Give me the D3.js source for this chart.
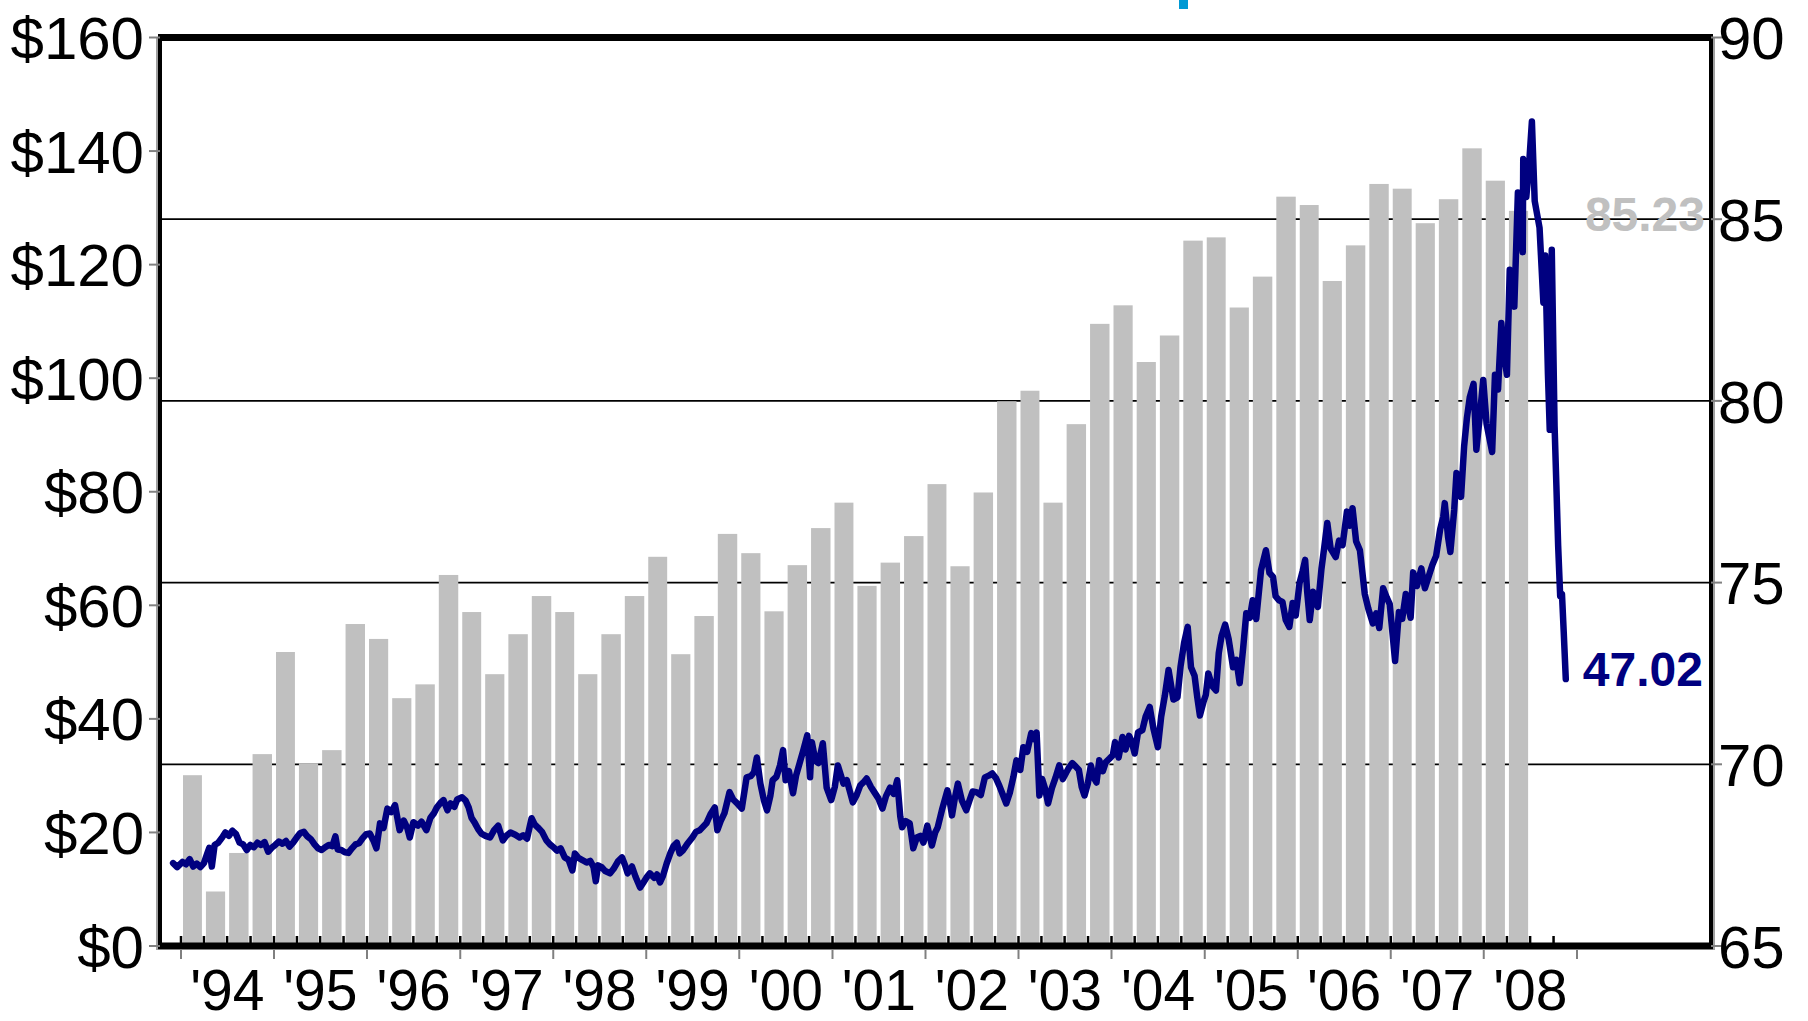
<!DOCTYPE html>
<html>
<head>
<meta charset="utf-8">
<script src="https://cdn.jsdelivr.net/npm/d3@7"></script>
<style>
  body { margin: 0; background: #fff; }
  svg { display: block; }
  text { font-family: "Liberation Sans", Arial, sans-serif; }
</style>
</head>
<body>
<svg id="chart" width="1808" height="1021"></svg>
<script>
// quarterly bars (right axis, 65-90)
var quarters = ["1994Q1","1994Q2","1994Q3","1994Q4","1995Q1","1995Q2","1995Q3","1995Q4",
  "1996Q1","1996Q2","1996Q3","1996Q4","1997Q1","1997Q2","1997Q3","1997Q4",
  "1998Q1","1998Q2","1998Q3","1998Q4","1999Q1","1999Q2","1999Q3","1999Q4",
  "2000Q1","2000Q2","2000Q3","2000Q4","2001Q1","2001Q2","2001Q3","2001Q4",
  "2002Q1","2002Q2","2002Q3","2002Q4","2003Q1","2003Q2","2003Q3","2003Q4",
  "2004Q1","2004Q2","2004Q3","2004Q4","2005Q1","2005Q2","2005Q3","2005Q4",
  "2006Q1","2006Q2","2006Q3","2006Q4","2007Q1","2007Q2","2007Q3","2007Q4",
  "2008Q1","2008Q2"]
var barValues = [69.70,66.50,67.56,70.28, 73.09,70.03,70.39,73.86,
  73.45,71.82,72.20,75.21, 74.19,72.48,73.58,74.63,
  74.19,72.48,73.58,74.63, 75.71,73.03,74.08,76.34,
  75.81,74.21,75.48,76.50, 77.20,74.91,75.55,76.28,
  77.71,75.45,77.48,79.99, 80.28,77.20,79.36,82.12,
  82.63,81.07,81.80,84.41, 84.50,82.57,83.42,85.62,
  85.39,83.30,84.28,85.97, 85.84,84.89,85.55,86.95,
  86.06,85.23]

// price line (left axis, $)
var oilPrices = [
  ["1993-12-01",14.6],["1993-12-17",13.9],["1994-01-07",14.8],["1994-01-21",14.4],["1994-02-04",15.3],
  ["1994-02-18",14.0],["1994-03-04",14.5],["1994-03-18",13.9],["1994-04-01",14.6],["1994-04-15",16.4],
  ["1994-04-22",17.3],["1994-05-02",14.0],["1994-05-13",17.8],["1994-05-27",18.2],["1994-06-10",19.0],
  ["1994-06-24",20.0],["1994-07-08",19.4],["1994-07-22",20.3],["1994-08-05",19.7],["1994-08-19",18.2],
  ["1994-09-02",17.9],["1994-09-16",16.9],["1994-09-30",17.8],["1994-10-14",17.4],["1994-10-28",18.2],
  ["1994-11-11",17.8],["1994-11-25",18.3],["1994-12-09",16.6],["1994-12-23",17.3],
  ["1995-01-06",17.8],["1995-01-20",18.4],["1995-02-03",18.0],["1995-02-17",18.5],["1995-03-03",17.5],
  ["1995-03-17",18.2],["1995-03-31",19.1],["1995-04-14",19.9],["1995-04-28",20.1],["1995-05-12",19.3],
  ["1995-05-26",18.8],["1995-06-09",17.9],["1995-06-23",17.2],["1995-07-07",16.9],["1995-07-21",17.4],
  ["1995-08-04",17.8],["1995-08-18",17.6],["1995-08-30",19.3],["1995-09-08",17.0],["1995-09-22",16.9],
  ["1995-10-06",16.5],["1995-10-20",16.4],["1995-11-03",17.2],["1995-11-17",17.9],["1995-12-01",18.1],
  ["1995-12-15",19.0],["1995-12-29",19.7],
  ["1996-01-12",19.8],["1996-01-26",18.6],["1996-02-07",17.2],["1996-02-21",21.6],["1996-03-06",20.8],
  ["1996-03-21",24.2],["1996-04-05",23.6],["1996-04-20",24.8],["1996-05-08",20.4],["1996-05-24",22.1],
  ["1996-06-07",20.8],["1996-06-17",19.1],["1996-07-01",21.8],["1996-07-19",21.2],["1996-08-02",21.9],
  ["1996-08-21",20.4],["1996-09-06",22.6],["1996-09-20",23.4],["1996-10-01",24.4],["1996-10-15",25.2],
  ["1996-10-27",25.7],["1996-11-12",23.9],["1996-11-24",25.1],["1996-12-09",24.5],["1996-12-20",25.8],
  ["1997-01-08",26.2],["1997-01-22",25.6],["1997-02-03",24.4],["1997-02-14",22.6],["1997-02-28",21.6],
  ["1997-03-12",20.6],["1997-03-25",19.8],["1997-04-10",19.4],["1997-04-28",19.1],["1997-05-14",20.4],
  ["1997-05-30",21.2],["1997-06-17",18.6],["1997-07-01",19.4],["1997-07-17",20.0],["1997-08-05",19.6],
  ["1997-08-22",19.1],["1997-09-05",19.5],["1997-09-20",18.9],["1997-10-08",22.5],["1997-10-20",21.4],
  ["1997-11-01",20.9],["1997-11-18",20.1],["1997-12-05",18.6],["1997-12-19",17.9],
  ["1998-01-02",17.4],["1998-01-15",16.8],["1998-01-30",17.2],["1998-02-15",15.6],["1998-03-02",15.2],
  ["1998-03-17",13.3],["1998-03-27",16.3],["1998-04-10",15.5],["1998-04-27",15.1],["1998-05-12",14.7],
  ["1998-05-26",15.0],["1998-06-08",13.9],["1998-06-17",11.4],["1998-06-26",14.2],["1998-07-10",13.9],
  ["1998-07-24",13.2],["1998-08-12",12.8],["1998-08-26",13.6],["1998-09-12",14.9],["1998-09-28",15.6],
  ["1998-10-10",14.2],["1998-10-20",12.8],["1998-11-06",14.0],["1998-11-20",12.2],["1998-12-08",10.3],
  ["1998-12-21",11.2],
  ["1999-01-04",12.2],["1999-01-15",12.8],["1999-02-01",12.0],["1999-02-12",12.6],["1999-02-24",11.2],
  ["1999-03-08",12.4],["1999-03-22",14.5],["1999-04-06",16.4],["1999-04-18",17.6],["1999-05-01",18.2],
  ["1999-05-12",16.3],["1999-05-26",16.9],["1999-06-10",17.9],["1999-07-01",19.1],["1999-07-15",20.1],
  ["1999-07-30",20.4],["1999-08-12",21.0],["1999-08-25",21.6],["1999-09-10",23.2],["1999-09-27",24.4],
  ["1999-10-07",20.4],["1999-10-20",22.0],["1999-11-04",23.4],["1999-11-24",27.1],["1999-12-08",25.8],
  ["1999-12-22",25.2],
  ["2000-01-11",24.2],["2000-01-30",29.7],["2000-02-15",29.9],["2000-02-28",30.6],["2000-03-10",33.2],
  ["2000-03-24",28.6],["2000-04-07",25.6],["2000-04-19",23.9],["2000-05-02",26.4],["2000-05-11",29.2],
  ["2000-05-26",29.8],["2000-06-09",31.8],["2000-06-21",34.5],["2000-07-01",29.2],["2000-07-14",30.8],
  ["2000-07-30",26.9],["2000-08-11",30.0],["2000-08-25",32.2],["2000-09-08",34.4],["2000-09-24",37.1],
  ["2000-10-05",29.7],["2000-10-12",35.9],["2000-10-26",32.6],["2000-11-07",32.2],["2000-11-24",35.7],
  ["2000-12-09",27.9],["2000-12-27",25.7],
  ["2001-01-10",28.0],["2001-01-22",31.8],["2001-02-13",28.6],["2001-02-26",29.2],["2001-03-08",27.6],
  ["2001-03-22",25.3],["2001-04-06",26.6],["2001-04-20",28.3],["2001-05-02",28.8],["2001-05-15",29.5],
  ["2001-06-01",28.0],["2001-06-14",27.1],["2001-06-30",26.0],["2001-07-16",24.2],["2001-07-30",26.4],
  ["2001-08-15",27.9],["2001-08-29",26.8],["2001-09-12",29.2],["2001-09-24",22.8],["2001-10-01",20.9],
  ["2001-10-15",22.0],["2001-10-31",21.6],["2001-11-14",17.2],["2001-11-28",19.1],["2001-12-12",19.4],
  ["2001-12-24",18.2],
  ["2002-01-08",21.2],["2002-01-26",17.7],["2002-02-08",20.0],["2002-02-18",20.9],["2002-03-08",24.2],
  ["2002-03-28",27.4],["2002-04-05",25.8],["2002-04-15",23.0],["2002-04-26",26.0],["2002-05-08",28.6],
  ["2002-05-24",25.6],["2002-06-10",23.9],["2002-06-24",25.8],["2002-07-05",27.2],["2002-07-20",27.1],
  ["2002-08-06",26.6],["2002-08-22",29.7],["2002-09-06",30.0],["2002-09-20",30.4],["2002-10-04",29.6],
  ["2002-10-18",28.2],["2002-11-01",26.6],["2002-11-14",25.1],["2002-11-28",27.0],["2002-12-12",29.8],
  ["2002-12-24",32.7],
  ["2003-01-08",31.0],["2003-01-20",35.0],["2003-02-04",34.2],["2003-02-20",37.5],["2003-03-05",36.4],
  ["2003-03-13",37.6],["2003-03-24",26.5],["2003-04-04",29.4],["2003-04-16",27.6],["2003-04-27",25.1],
  ["2003-05-12",27.8],["2003-05-26",29.6],["2003-06-10",31.8],["2003-06-24",29.4],["2003-07-08",30.6],
  ["2003-07-18",31.4],["2003-07-31",32.2],["2003-08-14",31.6],["2003-08-26",31.0],["2003-09-06",28.0],
  ["2003-09-17",26.5],["2003-09-30",28.6],["2003-10-12",31.8],["2003-10-24",29.6],["2003-11-03",28.8],
  ["2003-11-14",32.7],["2003-11-28",30.8],["2003-12-10",32.4],["2003-12-24",33.0],
  ["2004-01-06",33.6],["2004-01-15",35.9],["2004-01-29",33.2],["2004-02-13",36.8],["2004-02-25",34.6],
  ["2004-03-10",37.0],["2004-03-20",36.0],["2004-04-01",33.9],["2004-04-14",37.6],["2004-05-01",38.0],
  ["2004-05-14",40.4],["2004-05-30",42.1],["2004-06-14",38.2],["2004-07-01",35.0],["2004-07-14",40.4],
  ["2004-07-28",44.0],["2004-08-12",48.6],["2004-08-31",43.4],["2004-09-16",43.8],["2004-09-28",49.2],
  ["2004-10-12",53.4],["2004-10-26",56.2],["2004-11-08",49.1],["2004-11-22",47.6],["2004-12-02",44.0],
  ["2004-12-13",40.6],["2004-12-27",43.0],
  ["2005-01-05",44.2],["2005-01-15",48.0],["2005-01-30",45.8],["2005-02-14",45.0],["2005-02-25",51.6],
  ["2005-03-08",54.6],["2005-03-22",56.6],["2005-04-05",54.0],["2005-04-22",49.1],["2005-05-05",50.4],
  ["2005-05-18",46.3],["2005-06-01",52.6],["2005-06-13",58.6],["2005-06-27",57.8],["2005-07-08",60.9],
  ["2005-07-22",57.6],["2005-08-10",66.2],["2005-08-29",69.7],["2005-09-12",65.7],["2005-09-26",65.0],
  ["2005-10-06",61.6],["2005-10-19",60.9],["2005-11-02",60.6],["2005-11-15",57.4],["2005-11-29",56.2],
  ["2005-12-12",60.4],["2005-12-24",58.2],
  ["2006-01-08",63.9],["2006-01-20",66.0],["2006-01-30",68.0],["2006-02-07",62.4],["2006-02-17",57.4],
  ["2006-03-02",62.4],["2006-03-21",59.7],["2006-04-04",66.4],["2006-04-15",70.2],["2006-04-27",74.5],
  ["2006-05-10",70.0],["2006-05-30",68.5],["2006-06-12",71.4],["2006-06-26",70.6],["2006-07-13",76.5],
  ["2006-07-24",74.0],["2006-08-04",77.1],["2006-08-18",71.3],["2006-09-02",69.7],["2006-09-21",62.0],
  ["2006-10-05",59.4],["2006-10-23",56.8],["2006-11-05",58.6],["2006-11-17",56.0],["2006-12-02",63.0],
  ["2006-12-16",61.4],["2006-12-28",60.2],
  ["2007-01-08",55.0],["2007-01-18",50.2],["2007-02-02",58.8],["2007-02-15",57.6],["2007-03-01",62.0],
  ["2007-03-20",57.8],["2007-03-30",65.8],["2007-04-14",63.4],["2007-05-01",66.5],["2007-05-15",63.0],
  ["2007-06-01",65.4],["2007-06-14",67.2],["2007-06-28",68.7],["2007-07-14",73.4],["2007-07-26",75.6],
  ["2007-08-01",78.0],["2007-08-14",72.0],["2007-08-23",69.4],["2007-09-07",76.8],["2007-09-16",83.3],
  ["2007-09-27",81.0],["2007-10-04",79.1],["2007-10-16",88.0],["2007-10-27",93.0],["2007-11-07",96.6],
  ["2007-11-22",99.0],["2007-12-03",87.4],["2007-12-15",92.6],["2007-12-30",99.7],
  ["2008-01-12",92.0],["2008-02-03",87.0],["2008-02-14",100.6],["2008-02-26",98.0],["2008-03-10",109.7],
  ["2008-03-21",104.0],["2008-04-01",100.6],["2008-04-12",119.1],["2008-04-30",112.6],["2008-05-14",132.7],
  ["2008-05-24",127.0],["2008-06-02",122.2],["2008-06-04",138.6],["2008-06-16",131.9],["2008-06-26",137.0],
  ["2008-07-08",145.2],["2008-07-19",131.2],["2008-08-07",126.5],["2008-08-22",113.3],["2008-08-29",121.6],
  ["2008-09-09",100.6],["2008-09-16",90.9],["2008-09-24",122.6],["2008-10-05",91.6],["2008-10-12",81.2],
  ["2008-10-19",70.5],["2008-10-27",61.6],["2008-11-03",62.0],["2008-11-10",55.2],["2008-11-18",47.02]
]

var yearLabels = ["'94","'95","'96","'97","'98","'99","'00","'01","'02","'03","'04","'05","'06","'07","'08"]
var leftTicks = [0, 20, 40, 60, 80, 100, 120, 140, 160]
var rightTicks = [65, 70, 75, 80, 85, 90]
var gridValues = [70, 75, 80, 85]

var NAVY = "#000080", BARGREY = "#c0c0c0", TICKGREY = "#808080"
var plotL = 160, plotR = 1711, plotT = 37.5, plotB = 946

var svg = d3.select("#chart")
var parseDay = d3.timeParse("%Y-%m-%d")

var x = d3.scaleTime()
  .domain([new Date(1994, 0, 1), new Date(2009, 0, 1)])
  .range([181, 1577])
var yPrice = d3.scaleLinear().domain([0, 160]).range([plotB, plotT])
var yBar = d3.scaleLinear().domain([65, 90]).range([plotB, plotT])

// start / end date of a quarter label like "1994Q1"
function qStart(q) { return new Date(+q.slice(0, 4), (+q[5] - 1) * 3, 1) }
function qEnd(q) { return new Date(+q.slice(0, 4), (+q[5]) * 3, 1) }

// gridlines sit behind the bars
svg.append("g").selectAll("line")
  .data(gridValues)
  .enter().append("line")
  .attr("x1", plotL).attr("x2", plotR)
  .attr("y1", function(d) { return yBar(d) })
  .attr("y2", function(d) { return yBar(d) })
  .attr("stroke", "#000").attr("stroke-width", 1.8)

svg.append("g").selectAll("rect")
  .data(quarters)
  .enter().append("rect")
  .attr("x", function(d) { return x(qStart(d)) + 2 })
  .attr("width", function(d) { return x(qEnd(d)) - x(qStart(d)) - 4 })
  .attr("y", function(d, i) { return yBar(barValues[i]) })
  .attr("height", function(d, i) { return plotB - yBar(barValues[i]) })
  .attr("fill", BARGREY)

// small inward quarter marks on the bottom axis
var quarterMarks = quarters.concat(["2008Q3", "2008Q4"]).map(qStart)
svg.append("g").selectAll("line")
  .data(quarterMarks)
  .enter().append("line")
  .attr("x1", function(d) { return x(d) }).attr("x2", function(d) { return x(d) })
  .attr("y1", plotB).attr("y2", plotB - 10)
  .attr("stroke", "#000").attr("stroke-width", 2.5)

// frame
var frame = svg.append("g")
frame.append("line").attr("x1", plotL - 2).attr("x2", plotR + 2).attr("y1", plotT).attr("y2", plotT)
  .attr("stroke", "#000").attr("stroke-width", 7)
frame.append("line").attr("x1", plotL - 2).attr("x2", plotR + 2).attr("y1", plotB).attr("y2", plotB)
  .attr("stroke", "#000").attr("stroke-width", 7)
frame.append("line").attr("x1", plotL).attr("x2", plotL).attr("y1", plotT).attr("y2", plotB)
  .attr("stroke", "#000").attr("stroke-width", 4)
frame.append("line").attr("x1", plotR).attr("x2", plotR).attr("y1", plotT).attr("y2", plotB)
  .attr("stroke", "#000").attr("stroke-width", 4)
frame.append("line").attr("x1", plotL - 3).attr("x2", plotL - 3).attr("y1", plotT).attr("y2", plotB + 4)
  .attr("stroke", TICKGREY).attr("stroke-width", 1.5)
frame.append("line").attr("x1", plotR + 3).attr("x2", plotR + 3).attr("y1", plotT).attr("y2", plotB + 4)
  .attr("stroke", TICKGREY).attr("stroke-width", 1.5)

// axis ticks
svg.append("g").selectAll("line")
  .data(leftTicks)
  .enter().append("line")
  .attr("x1", plotL - 11).attr("x2", plotL)
  .attr("y1", function(d) { return yPrice(d) }).attr("y2", function(d) { return yPrice(d) })
  .attr("stroke", TICKGREY).attr("stroke-width", 2)
svg.append("g").selectAll("line")
  .data(rightTicks)
  .enter().append("line")
  .attr("x1", plotR).attr("x2", plotR + 11)
  .attr("y1", function(d) { return yBar(d) }).attr("y2", function(d) { return yBar(d) })
  .attr("stroke", TICKGREY).attr("stroke-width", 2)
var yearTicks = d3.range(1994, 2010).map(function(y) { return new Date(y, 0, 1) })
svg.append("g").selectAll("line")
  .data(yearTicks)
  .enter().append("line")
  .attr("x1", function(d) { return x(d) }).attr("x2", function(d) { return x(d) })
  .attr("y1", plotB + 3).attr("y2", plotB + 13)
  .attr("stroke", TICKGREY).attr("stroke-width", 2)

// price line
var priceLine = d3.line()
  .x(function(d) { return x(parseDay(d[0])) })
  .y(function(d) { return yPrice(d[1]) })
svg.append("path")
  .datum(oilPrices)
  .attr("d", priceLine)
  .attr("fill", "none")
  .attr("stroke", NAVY)
  .attr("stroke-width", 6.5)
  .attr("stroke-linejoin", "round")
  .attr("stroke-linecap", "round")

// axis labels
svg.append("g").selectAll("text")
  .data(leftTicks)
  .enter().append("text")
  .attr("x", plotL - 16)
  .attr("y", function(d) { return yPrice(d) })
  .attr("dy", "0.36em")
  .attr("text-anchor", "end")
  .attr("font-size", 60)
  .text(function(d) { return "$" + d })
svg.append("g").selectAll("text")
  .data(rightTicks)
  .enter().append("text")
  .attr("x", plotR + 7)
  .attr("y", function(d) { return yBar(d) })
  .attr("dy", "0.36em")
  .attr("font-size", 60)
  .text(function(d) { return d })
svg.append("g").selectAll("text")
  .data(yearLabels)
  .enter().append("text")
  .attr("x", function(d, i) { return x(new Date(1994 + i, 6, 2)) })
  .attr("y", 1010)
  .attr("text-anchor", "middle")
  .attr("font-size", 57)
  .text(function(d) { return d })

// end-value labels
var lastPrice = oilPrices[oilPrices.length - 1]
var lastBar = barValues[barValues.length - 1]
svg.append("text")
  .attr("x", x(parseDay(lastPrice[0])) + 17)
  .attr("y", yPrice(lastPrice[1]) - 10)
  .attr("dy", "0.36em")
  .attr("font-size", 48).attr("font-weight", "bold")
  .attr("fill", NAVY)
  .text(d3.format(".2f")(lastPrice[1]))
svg.append("text")
  .attr("x", plotR - 6)
  .attr("y", yBar(lastBar) + 3)
  .attr("dy", "0.36em")
  .attr("text-anchor", "end")
  .attr("font-size", 48).attr("font-weight", "bold")
  .attr("fill", BARGREY)
  .text(d3.format(".2f")(lastBar))

// clipped piece of the title above the frame
svg.append("rect")
  .attr("x", 1179).attr("y", 0).attr("width", 9).attr("height", 9)
  .attr("fill", "#0099d4")
</script>
</body>
</html>
